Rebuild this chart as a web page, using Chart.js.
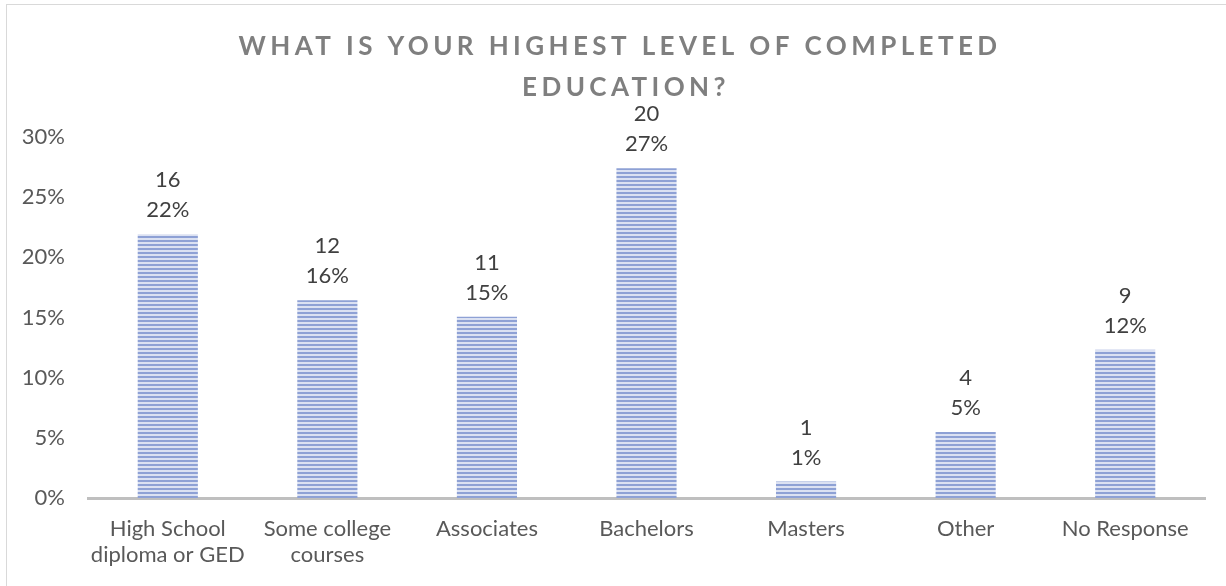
<!DOCTYPE html>
<html>
<head>
<meta charset="utf-8">
<script src="https://cdn.jsdelivr.net/npm/chart.js@4.4.0/dist/chart.umd.min.js"></script>
<style>
  html, body { margin: 0; padding: 0; background: #fff; overflow: hidden; }
  #wrap { width: 1226px; height: 586px; position: relative; }
</style>
</head>
<body>
<div id="wrap"><canvas id="education" width="1226" height="586"></canvas></div>
<script>
  "use strict";

  // Survey answers
  var categories = [["High School", "diploma or GED"], ["Some college", "courses"], "Associates", "Bachelors", "Masters", "Other", "No Response"];
  var counts = [16, 12, 11, 20, 1, 4, 9];
  var percents = [21.92, 16.44, 15.07, 27.40, 1.37, 5.48, 12.33];
  var yTicks = [0, 5, 10, 15, 20, 25, 30];
  var titleLines = ["WHAT IS YOUR HIGHEST LEVEL OF COMPLETED", "EDUCATION?"];

  var FONT = "Lato, 'Liberation Sans', sans-serif";

  // Striped fill for the bars
  function stripes() {
    var c = document.createElement("canvas");
    c.width = 8;
    c.height = 4;
    var g = c.getContext("2d");
    g.fillStyle = "#dbe1f2";
    g.fillRect(0, 0, 8, 4);
    g.fillStyle = "#8ea1d5";
    g.fillRect(0, 0, 8, 2);
    return g.createPattern(c, "repeat");
  }

  // Frame and spaced-out title
  var titlePlugin = {
    id: "titleFrame",
    beforeDraw: function (chart) {
      var ctx = chart.ctx;
      ctx.save();
      ctx.strokeStyle = "#d9d9d9";
      ctx.lineWidth = 1;
      ctx.strokeRect(6.5, 4.5, 1240, 600);
      ctx.restore();
    },
    afterDraw: function (chart) {
      var ctx = chart.ctx;
      ctx.save();
      ctx.font = "bold 26px " + FONT;
      ctx.fillStyle = "#7f7f7f";
      ctx.textAlign = "center";
      ctx.textBaseline = "middle";
      ctx.letterSpacing = "4.4px";
      ctx.fillText(titleLines[0], 620, 47);
      ctx.fillText(titleLines[1], 626, 88);
      ctx.restore();
    }
  };

  // Count and share above each bar
  var valueLabels = {
    id: "valueLabels",
    afterDatasetsDraw: function (chart) {
      var ctx = chart.ctx;
      var meta = chart.getDatasetMeta(0);
      ctx.save();
      ctx.font = "22px " + FONT;
      ctx.fillStyle = "#404040";
      ctx.textAlign = "center";
      ctx.textBaseline = "middle";
      meta.data.forEach(function (bar, i) {
        ctx.fillText(String(counts[i]), bar.x, bar.y - 54);
        ctx.fillText(Math.round(percents[i]) + "%", bar.x, bar.y - 24);
      });
      ctx.restore();
    }
  };

  var ctx = document.getElementById("education").getContext("2d");
  var myChart = new Chart(ctx, {
    type: "bar",
    data: {
      labels: categories,
      datasets: [{
        label: "Share of respondents",
        data: percents,
        backgroundColor: stripes(),
        borderWidth: 0,
        barPercentage: 0.377,
        categoryPercentage: 1
      }]
    },
    options: {
      responsive: false,
      maintainAspectRatio: false,
      animation: false,
      events: [],
      layout: { padding: { left: 0, top: 137, right: 21, bottom: 0 } },
      plugins: {
        legend: { display: false },
        title: { display: false },
        tooltip: { enabled: false }
      },
      scales: {
        x: {
          grid: { display: false, drawTicks: false },
          border: { display: true, color: "#bfbfbf", width: 3 },
          ticks: {
            color: "#595959",
            font: { family: FONT, size: 22, lineHeight: 1.18 },
            padding: 18,
            maxRotation: 0,
            autoSkip: false
          },
          afterFit: function (scale) { scale.height = 88; }
        },
        y: {
          min: 0,
          max: 30,
          afterBuildTicks: function (scale) {
            scale.ticks = yTicks.map(function (v) { return { value: v }; });
          },
          grid: { display: false, drawTicks: false },
          border: { display: false },
          ticks: {
            color: "#595959",
            font: { family: FONT, size: 22 },
            padding: 23,
            callback: function (v) { return v + "%"; }
          },
          afterFit: function (scale) { scale.width = 88; }
        }
      }
    },
    plugins: [titlePlugin, valueLabels]
  });
</script>
</body>
</html>
